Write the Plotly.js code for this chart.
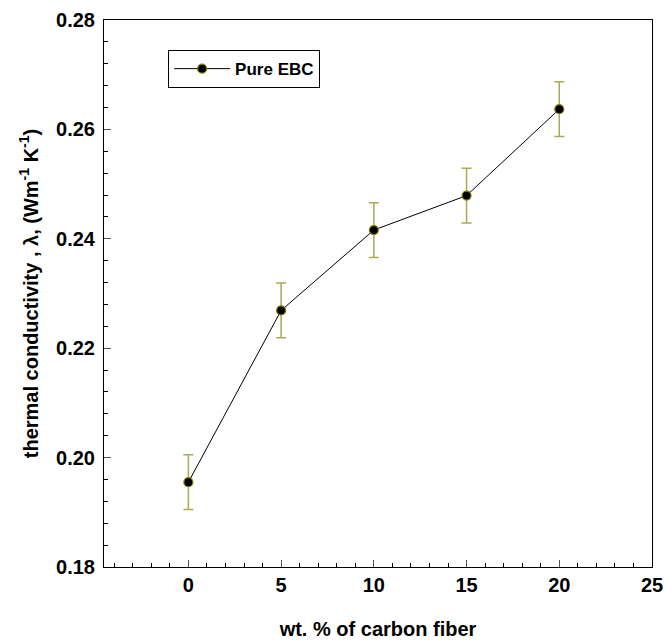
<!DOCTYPE html>
<html>
<head>
<meta charset="utf-8">
<script src="https://cdn.plot.ly/plotly-3.0.1.min.js"></script>
<style>html,body{margin:0;padding:0;background:#fff;}#chart{width:665px;height:640px;}</style>
</head>
<body>
<div id="chart"></div>
<script>
const carbonFiber = [0, 5, 10, 15, 20];
const conductivity = [0.1955, 0.2269, 0.2416, 0.2479, 0.2637];
const errors = [0.0050, 0.0050, 0.0050, 0.0050, 0.0050];
const seriesName = 'Pure EBC';
const xTicks = [0, 5, 10, 15, 20, 25];
const yTicks = [0.18, 0.20, 0.22, 0.24, 0.26, 0.28];

const FONT = 'Liberation Sans, Arial, sans-serif';

const trace = {
  x: carbonFiber,
  y: conductivity,
  name: seriesName,
  type: 'scatter',
  mode: 'lines+markers',
  line: {color: '#000000', width: 1},
  marker: {color: '#000000', size: 9, line: {color: '#808000', width: 1.2}},
  error_y: {type: 'data', array: errors, visible: true, color: '#aaaa55', thickness: 1.5, width: 5}
};

const layout = {
  width: 665,
  height: 640,
  margin: {l: 104, r: 13, t: 20, b: 73},
  paper_bgcolor: '#ffffff',
  plot_bgcolor: '#ffffff',
  font: {family: FONT, color: '#000000'},
  showlegend: true,
  legend: {
    x: 0.117, y: 0.945, xanchor: 'left', yanchor: 'top',
    bgcolor: '#ffffff', bordercolor: '#000000', borderwidth: 1,
    itemwidth: 56, entrywidth: 152,
    font: {family: FONT, size: 17, color: '#000000', weight: 'bold'}
  },
  xaxis: {
    range: [-4.55, 25],
    tickmode: 'array',
    tickvals: xTicks,
    ticktext: xTicks.map(String),
    ticks: 'inside', ticklen: 7, tickwidth: 1, tickcolor: '#555555',
    minor: {dtick: 1, tick0: 0, ticks: 'inside', ticklen: 4, tickcolor: '#000000', showgrid: false},
    showline: true, linecolor: '#000000', linewidth: 1, mirror: true,
    showgrid: false, zeroline: false,
    tickfont: {family: FONT, size: 20, weight: 'bold'},
    title: {text: 'wt. % of carbon fiber', font: {family: FONT, size: 20, weight: 'bold'}, standoff: 28}
  },
  yaxis: {
    range: [0.18, 0.28],
    tickmode: 'array',
    tickvals: yTicks,
    ticktext: yTicks.map(v => v.toFixed(2)),
    ticks: 'inside', ticklen: 7, tickwidth: 1, tickcolor: '#555555',
    minor: {dtick: 0.004, tick0: 0.18, ticks: 'inside', ticklen: 4, tickcolor: '#000000', showgrid: false},
    showline: true, linecolor: '#000000', linewidth: 1, mirror: true,
    showgrid: false, zeroline: false,
    ticklabelstandoff: 4,
    tickfont: {family: FONT, size: 20, weight: 'bold'},
    title: {text: 'thermal conductivity , λ, (Wm<sup>-1</sup> K<sup>-1</sup>)', font: {family: FONT, size: 20, weight: 'bold'}, standoff: 12}
  }
};

Plotly.newPlot('chart', [trace], layout, {displayModeBar: false, staticPlot: true});
</script>
</body>
</html>
